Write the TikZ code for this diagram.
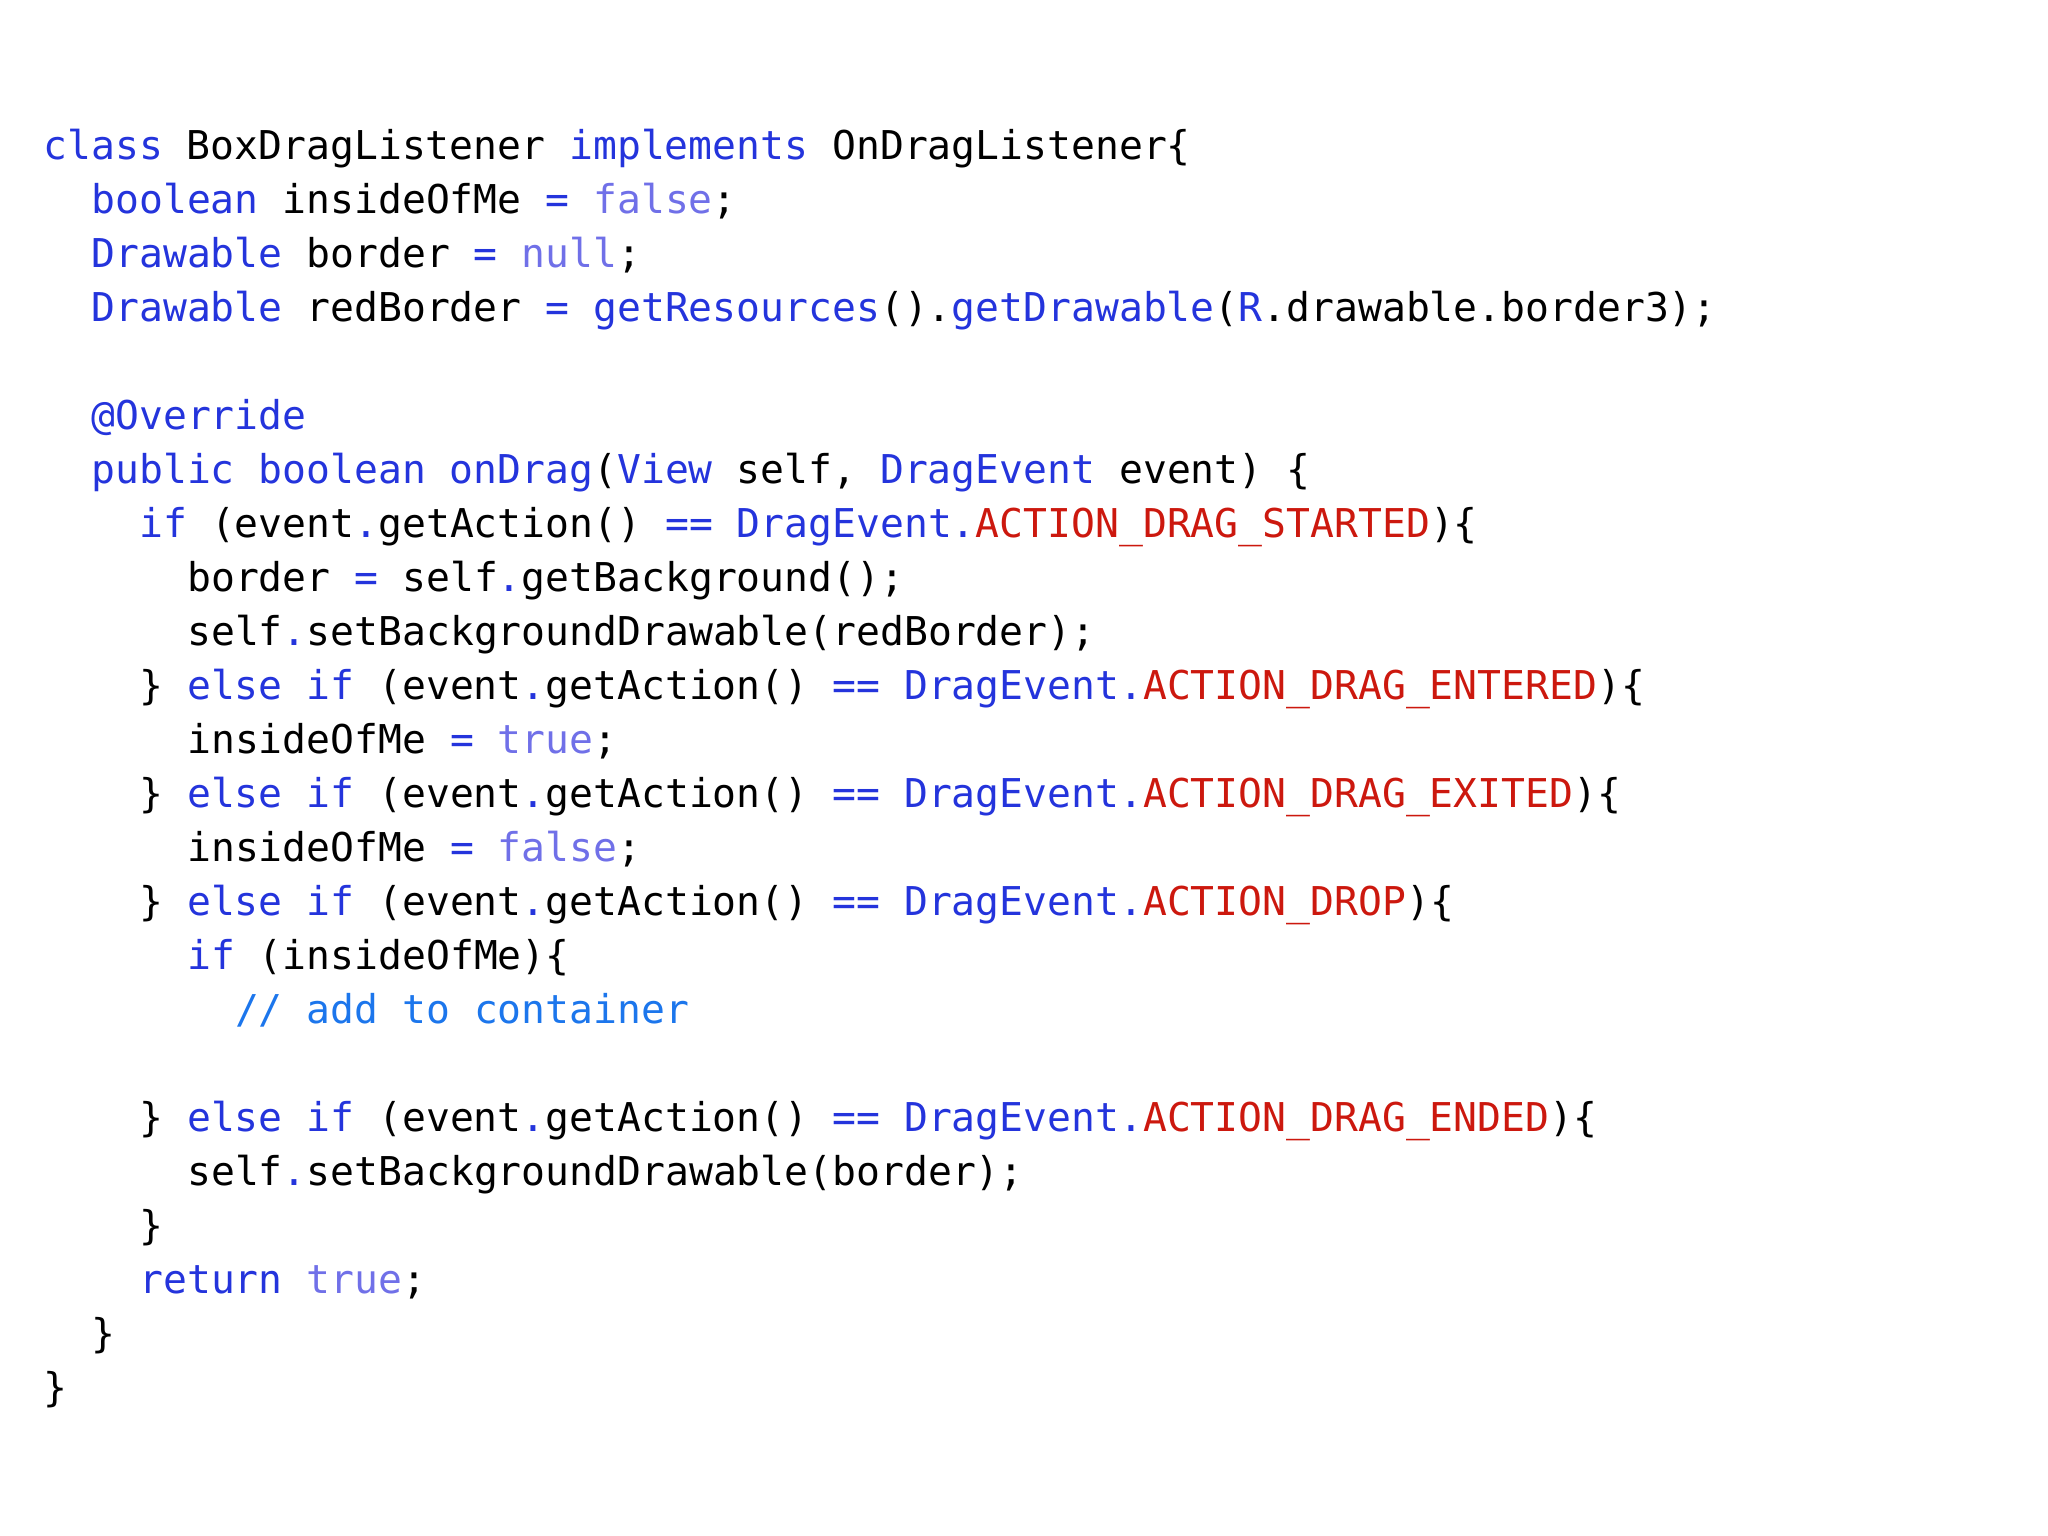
\documentclass[tikz,border=0pt]{standalone}
\usepackage{fontspec}
\setmonofont{DejaVu Sans Mono}
\definecolor{kwc}{RGB}{36,52,220}
\definecolor{litc}{RGB}{112,112,232}
\definecolor{cstc}{RGB}{204,24,14}
\definecolor{cmtc}{RGB}{28,118,236}
\newcommand{\kw}[1]{\textcolor{kwc}{#1}}
\newcommand{\lit}[1]{\textcolor{litc}{#1}}
\newcommand{\cst}[1]{\textcolor{cstc}{#1}}
\newcommand{\cmt}[1]{\textcolor{cmtc}{#1}}
\tikzset{codeline/.style={anchor=base west,inner sep=0pt,font=\ttfamily\fontsize{17.3}{20}\selectfont}}
\begin{document}
\begin{tikzpicture}[x=0.02cm,y=-0.02cm]
\useasboundingbox (0,0) rectangle (1568,1176);
\newcommand{\cl}[4]{\node[codeline] (#1) at ({33+#2*18.33},{122+#3*41.35}) {#4};}
\cl{l1}{0}{0}{\kw{class} BoxDragListener \kw{implements} OnDragListener\{}
\cl{l2}{2}{1}{\kw{boolean} insideOfMe \kw{=} \lit{false};}
\cl{l3}{2}{2}{\kw{Drawable} border \kw{=} \lit{null};}
\cl{l4}{2}{3}{\kw{Drawable} redBorder \kw{=} \kw{getResources}().\kw{getDrawable}(\kw{R}.drawable.border3);}
\cl{l6}{2}{5}{\kw{@Override}}
\cl{l7}{2}{6}{\kw{public} \kw{boolean} \kw{onDrag}(\kw{View} self, \kw{DragEvent} event) \{}
\cl{l8}{4}{7}{\kw{if} (event\kw{.}getAction() \kw{==} \kw{DragEvent.}\cst{ACTION\_DRAG\_STARTED})\{}
\cl{l9}{6}{8}{border \kw{=} self\kw{.}getBackground();}
\cl{l10}{6}{9}{self\kw{.}setBackgroundDrawable(redBorder);}
\cl{l11}{4}{10}{\} \kw{else} \kw{if} (event\kw{.}getAction() \kw{==} \kw{DragEvent.}\cst{ACTION\_DRAG\_ENTERED})\{}
\cl{l12}{6}{11}{insideOfMe \kw{=} \lit{true};}
\cl{l13}{4}{12}{\} \kw{else} \kw{if} (event\kw{.}getAction() \kw{==} \kw{DragEvent.}\cst{ACTION\_DRAG\_EXITED})\{}
\cl{l14}{6}{13}{insideOfMe \kw{=} \lit{false};}
\cl{l15}{4}{14}{\} \kw{else} \kw{if} (event\kw{.}getAction() \kw{==} \kw{DragEvent.}\cst{ACTION\_DROP})\{}
\cl{l16}{6}{15}{\kw{if} (insideOfMe)\{}
\cl{l17}{8}{16}{\cmt{// add to container}}
\cl{l19}{4}{18}{\} \kw{else} \kw{if} (event\kw{.}getAction() \kw{==} \kw{DragEvent.}\cst{ACTION\_DRAG\_ENDED})\{}
\cl{l20}{6}{19}{self\kw{.}setBackgroundDrawable(border);}
\cl{l21}{4}{20}{\}}
\cl{l22}{4}{21}{\kw{return} \lit{true};}
\cl{l23}{2}{22}{\}}
\cl{l24}{0}{23}{\}}
\end{tikzpicture}
\end{document}
